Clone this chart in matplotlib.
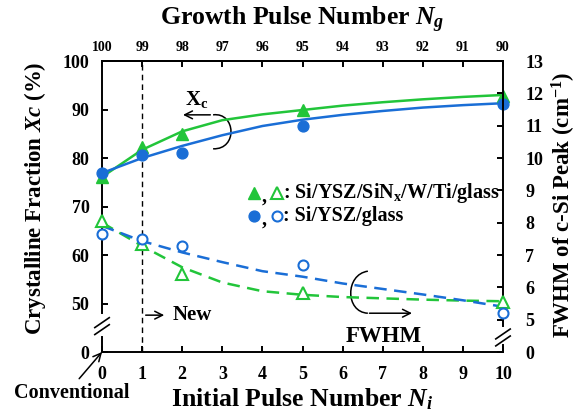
import matplotlib
matplotlib.use("Agg")
import matplotlib.pyplot as plt
from matplotlib.path import Path
from matplotlib.patches import PathPatch

plt.rcParams["font.family"] = ["Liberation Serif", "DejaVu Serif"]
plt.rcParams["font.weight"] = "bold"
plt.rcParams["mathtext.fontset"] = "custom"
plt.rcParams["mathtext.rm"] = "Liberation Serif:bold"
plt.rcParams["mathtext.it"] = "Liberation Serif:italic:bold"
plt.rcParams["mathtext.bf"] = "Liberation Serif:bold"

# measured points (initial pulse number Ni)
ni = [0, 1, 2, 5, 10]
xc_sinx = [76.1, 82.3, 85.0, 89.8, 92.8]      # crystalline fraction, Si/YSZ/SiNx/W/Ti/glass
xc_glass = [77.0, 80.7, 81.0, 86.7, 91.2]     # crystalline fraction, Si/YSZ/glass
fwhm_sinx = [8.05, 7.33, 6.40, 5.84, 5.55]    # FWHM (cm-1)
fwhm_glass = [7.64, 7.48, 7.28, 6.68, 5.22]

# fitted guide curves
fit_x = [0, 1, 2, 3, 4, 5, 6, 7, 8, 9, 10]
xc_sinx_fit = [76.1, 81.7, 85.5, 87.8, 89.0, 89.9, 90.8, 91.5, 92.1, 92.6, 93.0]
xc_glass_fit = [76.9, 80.0, 82.5, 84.7, 86.6, 87.9, 88.9, 89.7, 90.4, 90.9, 91.3]
fwhm_sinx_fit = [8.0, 7.28, 6.62, 6.15, 5.88, 5.77, 5.70, 5.66, 5.62, 5.59, 5.57]
fwhm_glass_fit = [7.9, 7.43, 7.08, 6.78, 6.50, 6.33, 6.12, 5.95, 5.78, 5.60, 5.40]

x_ticks = list(range(11))
left_ticks = [40, 50, 60, 70, 80, 90, 100]
left_labels = ["0", "50", "60", "70", "80", "90", "100"]
right_ticks = [4, 5, 6, 7, 8, 9, 10, 11, 12, 13]
right_labels = ["0", "5", "6", "7", "8", "9", "10", "11", "12", "13"]

green = "#22c53a"
blue = "#1a6ed6"

fig = plt.figure(figsize=(5.84, 4.12), dpi=100)
ax = fig.add_axes([0.1747, 0.1456, 0.6866, 0.7063])
ax2 = ax.twinx()

ax.set_xlim(0, 10)
ax.set_ylim(40, 100)
ax2.set_ylim(4, 13)

# Xc (left axis)
ax.plot(fit_x, xc_sinx_fit, color=green, lw=1.8, clip_on=False)
ax.plot(fit_x, xc_glass_fit, color=blue, lw=1.8, clip_on=False)
ax.plot(ni, xc_sinx, "^", color=green, ms=8.5, clip_on=False, zorder=5)
ax.plot(ni, xc_glass, "o", color=blue, ms=7.8, clip_on=False, zorder=5)

# FWHM (right axis)
ax2.plot(fit_x, fwhm_sinx_fit, color=green, lw=1.8, dashes=(5, 3), clip_on=False)
ax2.plot(fit_x, fwhm_glass_fit, color=blue, lw=1.8, dashes=(5, 3), clip_on=False)
ax2.plot(ni, fwhm_sinx, "^", mfc="white", mec=green, mew=1.5, ms=8, clip_on=False, zorder=5)
ax2.plot(ni, fwhm_glass, "o", mfc="white", mec=blue, mew=1.5, ms=7.2, clip_on=False, zorder=5)

ax.axvline(1, color="black", lw=1.0, dashes=(4, 3))

# ticks
ax.set_xticks(x_ticks)
ax.set_yticks(left_ticks)
ax.set_yticklabels(left_labels)
ax2.set_yticks(right_ticks)
ax2.set_yticklabels(right_labels)
ax.tick_params(axis="both", direction="in", length=4, width=1.4, labelsize=13)
ax.tick_params(axis="x", pad=10)
ax.tick_params(axis="y", pad=9)
ax2.tick_params(axis="y", direction="in", length=4, width=1.4, labelsize=13, pad=16)

top = ax.secondary_xaxis("top", functions=(lambda x: 100 - x, lambda n: 100 - n))
top.set_xticks(list(range(100, 89, -1)))
top.tick_params(direction="in", length=4, width=1.4, labelsize=10, pad=5)

# spines with broken left/right axes
for s in ax.spines.values():
    s.set_linewidth(1.4)
for s in ax2.spines.values():
    s.set_linewidth(1.4)
top.spines["top"].set_linewidth(1.4)
ax.spines["right"].set_visible(False)
ax2.spines["left"].set_visible(False)
ax2.spines["top"].set_visible(False)
ax2.spines["bottom"].set_visible(False)
ax.spines["left"].set_bounds(48, 100)
ax2.spines["right"].set_bounds(4.8, 13)
ax.axvline(0, ymin=0, ymax=0.052, color="black", lw=1.4, clip_on=False)
ax2.axvline(10, ymin=0, ymax=0.024, color="black", lw=1.4, clip_on=False)

# "//" break marks
for cx, cy in [(0.0, 0.089), (1.0, 0.05)]:
    for off in (-0.012, 0.012):
        ax.plot([cx - 0.018, cx + 0.018], [cy + off - 0.017, cy + off + 0.017],
                color="black", lw=1.2, transform=ax.transAxes, clip_on=False)

# axis labels
fig.text(0.5177, 0.951, "Growth Pulse Number $N_g$", ha="center", va="center", fontsize=18.5)
fig.text(0.5177, 0.03, "Initial Pulse Number $N_i$", ha="center", va="center", fontsize=18.5)
fig.text(0.06, 0.519, "Crystalline Fraction $Xc$ (%)", ha="center", va="center",
         rotation=90, fontsize=16.5)
fig.text(0.966, 0.503, "FWHM of c-Si Peak (cm$^{-1}$)", ha="center", va="center",
         rotation=90, fontsize=16.5)

# legend drawn by hand
ax.plot([0.378], [0.546], "^", color=green, ms=8.5, transform=ax.transAxes, clip_on=False)
ax.plot([0.436], [0.546], "^", mfc="white", mec=green, mew=1.5, ms=8, transform=ax.transAxes, clip_on=False)
ax.plot([0.378], [0.467], "o", color=blue, ms=7.8, transform=ax.transAxes, clip_on=False)
ax.plot([0.436], [0.467], "o", mfc="white", mec=blue, mew=1.5, ms=7.2, transform=ax.transAxes, clip_on=False)
for yy in (0.546, 0.467):
    ax.text(0.399, yy - 0.012, ",", transform=ax.transAxes, ha="left", va="center", fontsize=14.5)
ax.text(0.452, 0.546, ": Si/YSZ/SiN$_\\mathrm{x}$/W/Ti/glass", transform=ax.transAxes,
        ha="left", va="center", fontsize=14.5)
ax.text(0.452, 0.467, ": Si/YSZ/glass", transform=ax.transAxes, ha="left", va="center", fontsize=14.5)

# Xc bracket + arrow
ax.annotate("", xy=(1.95, 88.9), xytext=(2.77, 88.9),
            arrowprops=dict(arrowstyle="->", lw=1.1, color="black", mutation_scale=14))
ax.text(2.36, 92.1, "X$_\\mathrm{c}$", ha="center", va="center", fontsize=15)
p = Path([(2.77, 88.9), (3.34, 89.5), (3.39, 81.7), (2.77, 81.9)],
         [Path.MOVETO, Path.CURVE4, Path.CURVE4, Path.CURVE4])
ax.add_patch(PathPatch(p, fill=False, lw=1.1, color="black"))

# FWHM bracket + arrow
p2 = Path([(6.63, 6.50), (6.06, 6.40), (6.06, 5.23), (6.63, 5.20)],
          [Path.MOVETO, Path.CURVE4, Path.CURVE4, Path.CURVE4])
ax2.add_patch(PathPatch(p2, fill=False, lw=1.1, color="black"))
ax2.annotate("", xy=(7.8, 5.2), xytext=(6.6, 5.2),
             arrowprops=dict(arrowstyle="->", lw=1.1, color="black", mutation_scale=14))
ax2.text(7.02, 4.47, "FWHM", ha="center", va="center", fontsize=16.5)

# New / Conventional
ax.annotate("", xy=(1.62, 47.6), xytext=(1.02, 47.6),
            arrowprops=dict(arrowstyle="->", lw=1.1, color="black", mutation_scale=14))
ax.text(1.75, 47.6, "New", ha="left", va="center", fontsize=15)
ax.annotate("", xy=(0, 40), xytext=(-0.57, 34.5), annotation_clip=False,
            arrowprops=dict(arrowstyle="->", lw=1.1, color="black", mutation_scale=14,
                            shrinkA=0, shrinkB=0))
ax.text(-0.76, 31.6, "Conventional", ha="center", va="center", fontsize=14.5, clip_on=False)

fig.savefig("out.png", dpi=100)
